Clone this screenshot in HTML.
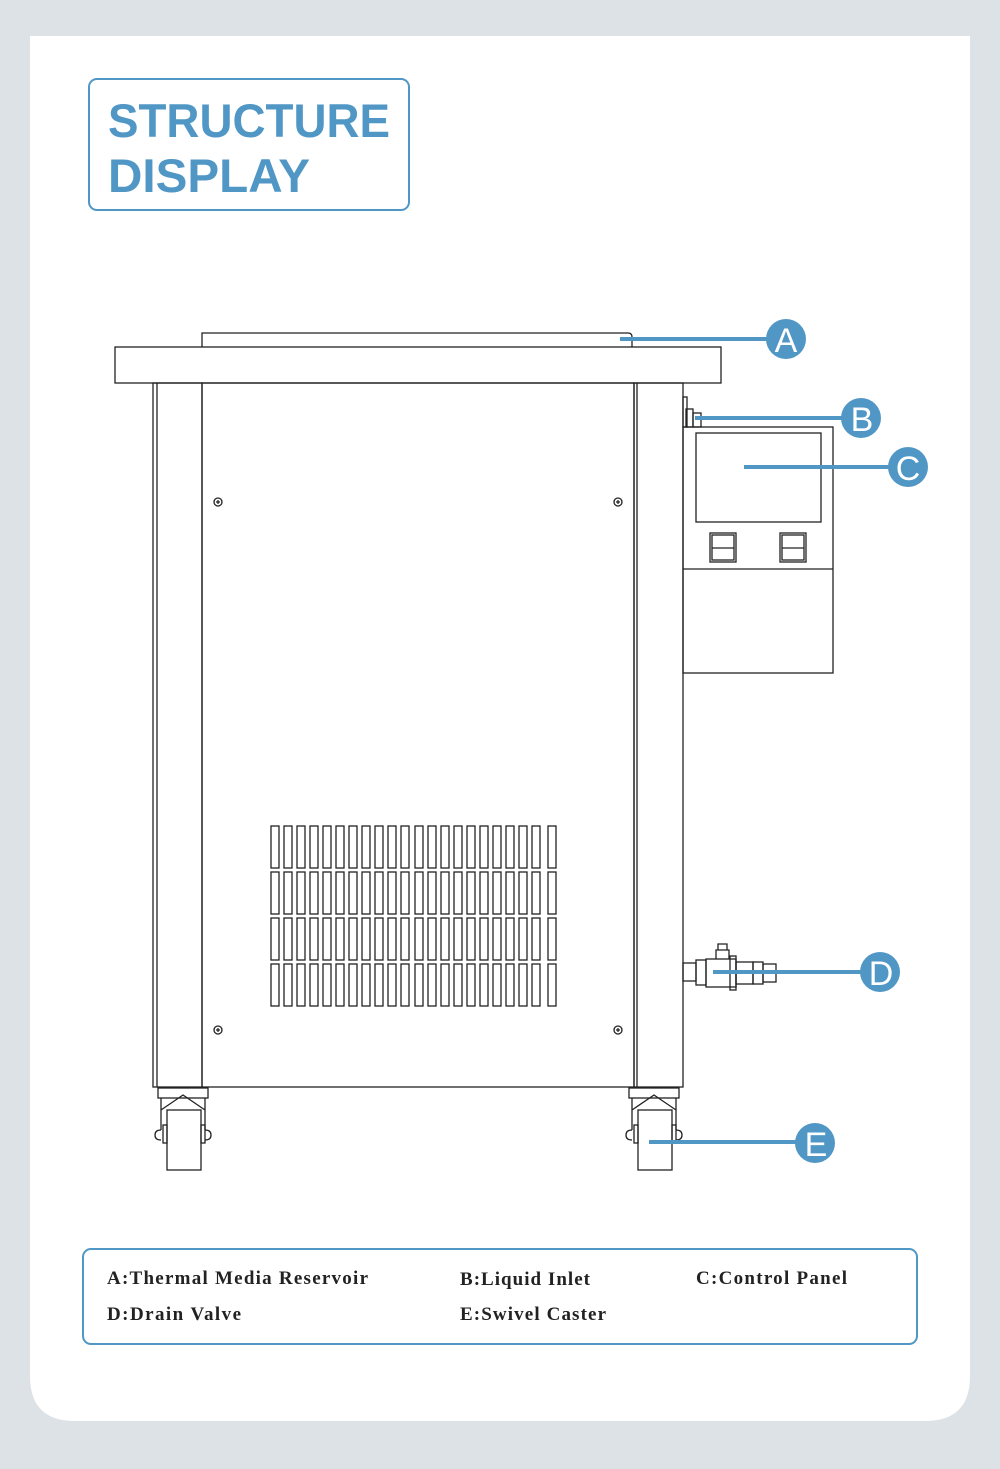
<!DOCTYPE html>
<html><head><meta charset="utf-8"><style>
html,body{margin:0;padding:0;background:#dde2e6;}
svg{display:block}
</style></head><body>
<svg width="1000" height="1469" viewBox="0 0 1000 1469" xmlns="http://www.w3.org/2000/svg">
<rect x="0" y="0" width="1000" height="1469" fill="#dde2e6"/>
<path d="M30 36 H970 V1376 Q970 1421 925 1421 H75 Q30 1421 30 1376 Z" fill="#fff"/>
<rect x="89" y="79" width="320" height="131" rx="8" fill="none" stroke="#5197c6" stroke-width="2"/>
<text x="108" y="137" font-family="Liberation Sans, sans-serif" font-weight="bold" font-size="47" fill="#5197c6" textLength="282" lengthAdjust="spacingAndGlyphs">STRUCTURE</text>
<text x="108" y="192" font-family="Liberation Sans, sans-serif" font-weight="bold" font-size="47" fill="#5197c6" textLength="202" lengthAdjust="spacingAndGlyphs">DISPLAY</text>

<g fill="none" stroke="#222" stroke-width="1.3">
<path d="M202 347 V333 H628 Q632 333 632 337 V347"/>
<rect x="115" y="347" width="606" height="36"/>
<rect x="153" y="383" width="49" height="704"/>
<line x1="157" y1="383" x2="157" y2="1087"/>
<rect x="202" y="383" width="432" height="704"/>
<rect x="634" y="383" width="49" height="704"/>
<line x1="637" y1="383" x2="637" y2="1087"/>
<circle cx="218" cy="502" r="4"/><circle cx="618" cy="502" r="4"/>
<circle cx="218" cy="1030" r="4"/><circle cx="618" cy="1030" r="4"/>
<path d="M216 502h4M218 500v4M616 502h4M618 500v4M216 1030h4M218 1028v4M616 1030h4M618 1028v4"/>
<rect x="683" y="397" width="4" height="30"/>
<rect x="686" y="409" width="7" height="18"/>
<rect x="693" y="413" width="8" height="14"/>
<rect x="683" y="427" width="150" height="246"/>
<rect x="696" y="433" width="125" height="89"/>
<line x1="683" y1="569" x2="833" y2="569"/>
<rect x="710" y="533" width="26" height="29"/><rect x="712" y="535" width="22" height="25"/>
<line x1="712" y1="548" x2="734" y2="548"/>
<rect x="780" y="533" width="26" height="29"/><rect x="782" y="535" width="22" height="25"/>
<line x1="782" y1="548" x2="804" y2="548"/>
<rect x="683" y="963" width="13" height="18"/>
<rect x="696" y="960" width="10" height="25"/>
<rect x="706" y="959" width="30" height="28"/>
<rect x="730" y="956" width="6" height="34"/>
<rect x="736" y="962" width="17" height="22"/>
<rect x="753" y="962" width="10" height="22"/>
<rect x="763" y="964" width="13" height="18"/>
<path d="M716 959 V950 H729 V959 M718 950 V944 H727 V950"/>
<g id="cst">
<rect x="158" y="1088" width="50" height="10"/>
<path d="M161 1098 V1130 M205 1098 V1130 M161 1110 L183 1095 L205 1110"/>
<rect x="167" y="1110" width="34" height="60"/>
<path d="M161 1130 q-6 0 -6 5 q0 5 6 5 M205 1130 q6 0 6 5 q0 5 -6 5"/>
<rect x="163" y="1125" width="4" height="18"/><rect x="201" y="1125" width="4" height="18"/>
</g>
<use href="#cst" x="471"/>
<g id="vrow">
<rect x="271" y="826" width="8" height="42"/><rect x="284" y="826" width="8" height="42"/><rect x="297" y="826" width="8" height="42"/><rect x="310" y="826" width="8" height="42"/><rect x="323" y="826" width="8" height="42"/><rect x="336" y="826" width="8" height="42"/><rect x="349" y="826" width="8" height="42"/><rect x="362" y="826" width="8" height="42"/><rect x="375" y="826" width="8" height="42"/><rect x="388" y="826" width="8" height="42"/><rect x="401" y="826" width="8" height="42"/><rect x="415" y="826" width="8" height="42"/><rect x="428" y="826" width="8" height="42"/><rect x="441" y="826" width="8" height="42"/><rect x="454" y="826" width="8" height="42"/><rect x="467" y="826" width="8" height="42"/><rect x="480" y="826" width="8" height="42"/><rect x="493" y="826" width="8" height="42"/><rect x="506" y="826" width="8" height="42"/><rect x="519" y="826" width="8" height="42"/><rect x="532" y="826" width="8" height="42"/><rect x="548" y="826" width="8" height="42"/>
</g>
<use href="#vrow" y="46"/><use href="#vrow" y="92"/><use href="#vrow" y="138"/>
</g>

<g stroke="#5197c6" stroke-width="4">
<line x1="620" y1="339" x2="770" y2="339"/>
<line x1="695" y1="418" x2="845" y2="418"/>
<line x1="744" y1="467" x2="892" y2="467"/>
<line x1="713" y1="972" x2="864" y2="972"/>
<line x1="649" y1="1142" x2="800" y2="1142"/>
</g>
<g fill="#5197c6">
<circle cx="786" cy="339" r="20"/><circle cx="861" cy="418" r="20"/><circle cx="908" cy="467" r="20"/><circle cx="880" cy="972" r="20"/><circle cx="815" cy="1143" r="20"/>
</g>
<g fill="#fff" font-family="Liberation Sans, sans-serif" font-size="34" text-anchor="middle">
<text x="786" y="352">A</text><text x="862" y="431">B</text><text x="908" y="480">C</text><text x="881" y="985">D</text><text x="816" y="1156">E</text>
</g>

<rect x="83" y="1249" width="834" height="95" rx="8" fill="none" stroke="#5197c6" stroke-width="2"/>
<g font-family="Liberation Serif, serif" font-weight="bold" font-size="19" fill="#222" lengthAdjust="spacing">
<text x="107" y="1284" textLength="261">A:Thermal Media Reservoir</text>
<text x="460" y="1285" textLength="130">B:Liquid Inlet</text>
<text x="696" y="1284" textLength="151">C:Control Panel</text>
<text x="107" y="1320" textLength="134">D:Drain Valve</text>
<text x="460" y="1320" textLength="146">E:Swivel Caster</text>
</g>
</svg>
</body></html>
